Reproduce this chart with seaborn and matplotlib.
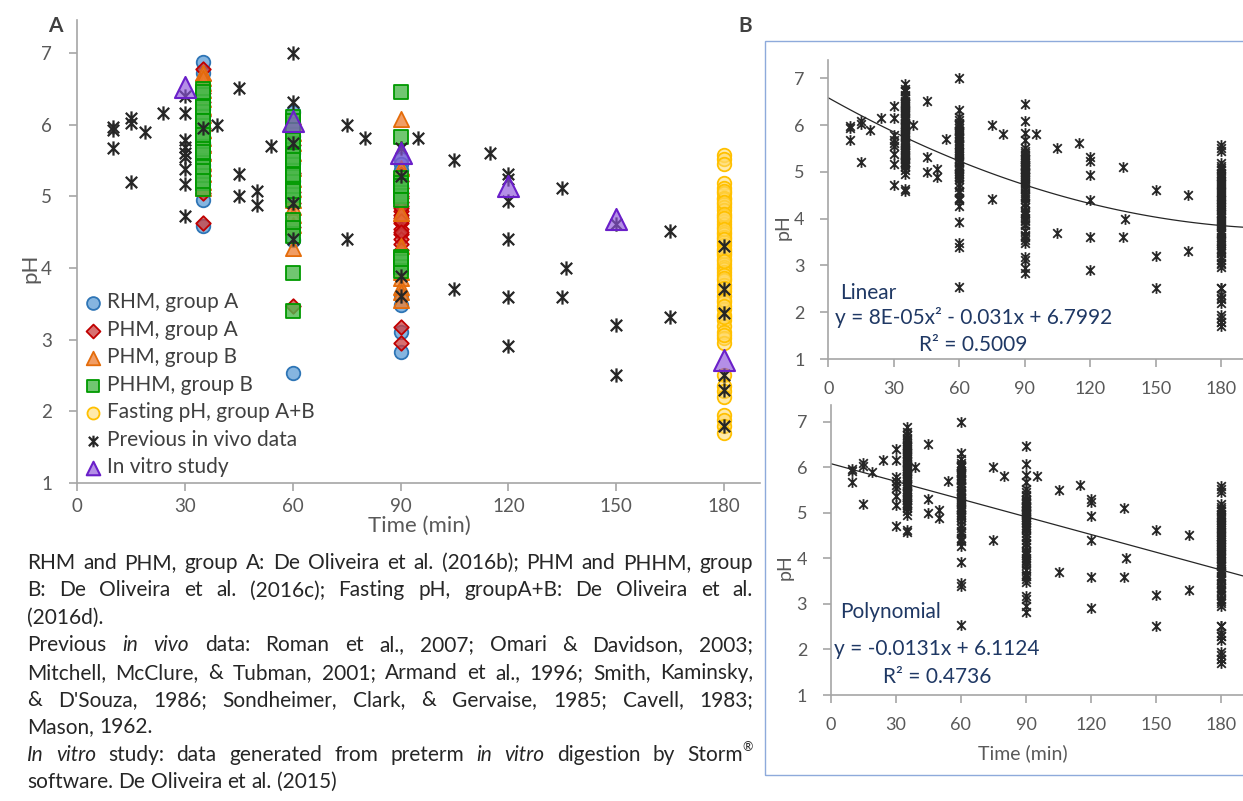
import numpy as np
import pandas as pd
import matplotlib
matplotlib.use("Agg")
import matplotlib.pyplot as plt
from matplotlib.path import Path
from matplotlib.patches import Rectangle
import seaborn as sns

sns.set_theme(style="white")
plt.rcParams['font.family'] = ['Lato', 'DejaVu Sans']

# ---------------- data ----------------
ticks_x = [0, 30, 60, 90, 120, 150, 180]
ticks_y = [1, 2, 3, 4, 5, 6, 7]

rhm_a_time = [35, 35, 35, 35, 35, 35, 35, 35, 35, 35, 35, 35, 35, 35,
              60, 60, 60, 60, 60, 60, 60, 60, 60,
              90, 90, 90, 90, 90, 90, 90, 90, 90, 90, 90]
rhm_a_ph = [6.88, 6.72, 6.51, 6.38, 6.22, 6.03, 5.91, 5.74, 5.62, 5.43, 5.28, 5.17, 4.95, 4.58,
            6.18, 6.02, 5.84, 5.6, 5.47, 5.21, 4.97, 4.39, 2.53,
            5.52, 5.45, 5.37, 5.28, 5.15, 5.06, 4.9, 3.62, 3.48, 3.11, 2.83]

phm_a_time = [35, 35, 35, 35, 35, 35, 35, 35, 35, 35, 35, 35, 35,
              60, 60, 60, 60, 60, 60, 60,
              90, 90, 90, 90, 90, 90, 90, 90, 90, 90, 90, 90, 90, 90, 90, 90,
              90, 90, 90, 90, 90, 90]
phm_a_ph = [6.78, 6.62, 6.44, 6.31, 6.12, 5.96, 5.81, 5.63, 5.52, 5.36, 5.22, 5.04, 4.63,
            6.01, 5.72, 5.33, 5.06, 4.9, 4.57, 3.47,
            5.31, 5.22, 5.12, 5.05, 4.98, 4.87, 4.79, 4.7, 4.63, 4.55, 4.47, 4.41, 4.34, 4.25,
            3.18, 2.95, 5.0, 4.92, 4.84, 4.74, 4.66, 4.5]

phm_b_time = [35, 35, 35, 35, 35, 35, 35, 35, 35, 35, 35, 35, 35, 35, 35, 35, 35,
              60, 60, 60, 60, 60, 60, 60, 60, 60, 60, 60, 60,
              90, 90, 90, 90, 90, 90, 90, 90, 90]
phm_b_ph = [6.72, 6.58, 6.36, 6.14, 5.93, 5.71, 5.48, 5.31, 5.12,
            6.65, 6.48, 6.25, 6.02, 5.82, 5.6, 5.4, 5.2,
            6.03, 5.88, 5.6, 5.24, 4.95, 4.74, 4.6, 4.28, 5.75, 5.4, 5.1, 4.85,
            6.08, 5.4, 4.77, 4.31, 3.95, 3.86, 3.74, 3.66, 3.55]

phhm_b_time = [35, 35, 35, 35, 35, 35, 35, 35, 35, 35, 35, 35, 35, 35, 35,
               35, 35, 35, 35, 35, 35, 35,
               60, 60, 60, 60, 60, 60, 60, 60, 60, 60, 60, 60, 60, 60, 60, 60, 60, 60, 60,
               60, 60, 60, 60, 60, 60,
               90, 90, 90, 90, 90, 90, 90, 90, 90, 90, 90, 90, 90, 90]
phhm_b_ph = [6.5, 6.41, 6.32, 6.18, 6.11, 5.98, 5.9, 5.77, 5.69, 5.58, 5.47, 5.41, 5.29, 5.18, 5.1,
             6.45, 6.25, 6.05, 5.85, 5.62, 5.35, 5.22,
             6.1, 6.0, 5.87, 5.8, 5.72, 5.65, 5.56, 5.43, 5.35, 5.27, 5.2, 5.12, 5.02, 4.95,
             4.67, 4.56, 4.44, 3.93, 3.4, 6.05, 5.93, 5.78, 5.5, 5.3, 5.08,
             6.46, 5.83, 5.25, 5.19, 5.1, 5.05, 5.0, 4.16, 4.08, 4.01, 3.96, 5.15, 4.95, 4.12]

fasting_time = [180] * 63
fasting_ph = [5.58, 5.52, 5.45, 5.19, 5.12, 5.04, 4.98, 4.96, 4.89, 4.85, 4.81, 4.73, 4.66,
              4.62, 4.57, 4.5, 4.47, 4.43, 4.36, 4.32, 4.27, 4.21, 4.18, 4.13, 4.05, 4.02,
              3.98, 3.94, 3.9, 3.83, 3.76, 3.68, 3.61, 3.52, 3.43, 3.35, 3.27, 3.19, 3.11,
              3.02, 2.96, 2.51, 2.36, 2.29, 2.2, 1.95, 1.88, 1.8, 1.7,
              5.08, 4.92, 4.76, 4.7, 4.54, 4.4, 4.24, 4.1, 3.86, 3.72, 3.56, 3.47, 3.31, 3.06]

prev_time = [10, 10, 10, 15, 15, 15, 19, 24, 30, 30, 30, 30, 30, 30, 30, 30, 30, 35, 39,
             45, 45, 45, 50, 50, 54, 60, 60, 60, 60, 60, 75, 75, 80, 90, 90, 90, 90, 95,
             105, 105, 115, 120, 120, 120, 120, 120, 120, 135, 136, 135, 150, 150, 150,
             165, 165, 180, 180, 180, 180, 180, 180]
prev_ph = [5.97, 5.93, 5.67, 6.09, 6.02, 5.2, 5.9, 6.16, 6.4, 6.16, 5.79, 5.69, 5.61, 5.55,
           5.38, 5.17, 4.72, 5.95, 6.0, 6.51, 5.31, 5.0, 5.07, 4.88, 5.7, 7.0, 6.32, 5.74,
           4.91, 4.41, 6.0, 4.41, 5.81, 5.67, 5.28, 3.89, 3.61, 5.81, 5.51, 3.7, 5.61, 5.31,
           5.24, 4.93, 4.4, 3.6, 2.91, 5.11, 4.0, 3.6, 4.62, 3.2, 2.51, 4.51, 3.31, 4.31,
           3.7, 3.37, 2.51, 2.3, 1.8]

vitro_time = [30, 60, 90, 120, 150, 180]
vitro_ph = [6.53, 6.05, 5.6, 5.15, 4.68, 2.72]

labels = ["RHM, group A", "PHM, group A", "PHM, group B", "PHHM, group B",
          "Fasting pH, group A+B", "Previous in vivo data", "In vitro study"]

# ---------------- figure ----------------
W, H = 1243, 801
fig = plt.figure(figsize=(W / 100, H / 100), dpi=100)

def box(l, t, r, b):
    return [l / W, 1 - b / H, (r - l) / W, (b - t) / H]

axA = fig.add_axes(box(77, 20, 760, 483))
axB1 = fig.add_axes(box(828.3, 60, 1243, 359))
axB2 = fig.add_axes(box(830.7, 405, 1243, 695))

star = Path([(0, -1), (0, 1), (-0.8, -0.8), (0.8, 0.8), (-0.8, 0.8), (0.8, -0.8)],
            [Path.MOVETO, Path.LINETO, Path.MOVETO, Path.LINETO, Path.MOVETO, Path.LINETO])

grey = '#595959'
spine_c = '#a6a6a6'

styles = [
    (rhm_a_time, rhm_a_ph, 'o', 95, (0.36, 0.61, 0.84, 0.75), '#2e75b6', 85),
    (phm_a_time, phm_a_ph, 'D', 55, (0.80, 0.25, 0.25, 0.75), '#c00000', 50),
    (phm_b_time, phm_b_ph, '^', 120, (0.93, 0.49, 0.19, 0.75), '#e46c0a', 95),
    (phhm_b_time, phhm_b_ph, 's', 90, (0.30, 0.72, 0.30, 0.8), '#009a00', 75),
    (fasting_time, fasting_ph, 'o', 95, (1.0, 0.85, 0.40, 0.55), '#ffc000', 75),
]
leg_sizes = []
for (t, p, m, s, fc, ec, ls), lab in zip(styles, labels[:5]):
    sns.scatterplot(x=t, y=p, marker=m, s=s, color=fc, edgecolor=ec, linewidth=1.3,
                    ax=axA, label=lab, zorder=3)
    leg_sizes.append(ls)
sns.scatterplot(x=prev_time, y=prev_ph, marker=star, s=105, color='#262626',
                edgecolor='#262626', linewidth=1.6, ax=axA, label=labels[5], zorder=4)
leg_sizes.append(70)
sns.scatterplot(x=vitro_time, y=vitro_ph, marker='^', s=230, color=(0.55, 0.33, 0.85, 0.65),
                edgecolor='#6a1fc9', linewidth=1.5, ax=axA, label=labels[6], zorder=5)
leg_sizes.append(95)

def style_axis(ax, ylim_top, pad_x, pad_y, fs=13):
    ax.set_xlim(0, 190)
    ax.set_ylim(1, ylim_top)
    ax.set_xticks(ticks_x)
    ax.set_yticks(ticks_y)
    for sp in ['top', 'right']:
        ax.spines[sp].set_visible(False)
    for sp in ['left', 'bottom']:
        ax.spines[sp].set_color(spine_c)
        ax.spines[sp].set_linewidth(1.2)
    ax.tick_params(axis='both', which='major', direction='out', length=6, width=1.2,
                   color=spine_c, labelcolor=grey, labelsize=fs, bottom=True, left=True)
    ax.tick_params(axis='x', pad=pad_x)
    ax.tick_params(axis='y', pad=pad_y)
    ax.set_facecolor('none')

style_axis(axA, 7.46, 5, 12, fs=13.5)
axA.set_xlabel('Time (min)', fontsize=16, color=grey)
axA.xaxis.set_label_coords(0.5007, -0.092)
axA.xaxis.label.set_va('center')
axA.set_ylabel('pH', fontsize=16, color=grey)
axA.yaxis.set_label_coords(-0.068, 0.464)
axA.yaxis.label.set_va('center')

leg = axA.legend(loc='lower left', bbox_to_anchor=(0.008, 0.012), frameon=False, fontsize=15,
                 borderpad=0.0, borderaxespad=0.0, handletextpad=0.2, labelspacing=0.36,
                 handlelength=1.0, handleheight=0.6)
for txt in leg.get_texts():
    txt.set_color('#404040')
for h, sz in zip(leg.legend_handles, leg_sizes):
    h.set_sizes([sz])

# ---------------- panel B ----------------
all_time = rhm_a_time + phm_a_time + phm_b_time + phhm_b_time + fasting_time + prev_time
all_ph = rhm_a_ph + phm_a_ph + phm_b_ph + phhm_b_ph + fasting_ph + prev_ph
dfB = pd.DataFrame({'time': all_time, 'pH': all_ph})

for ax, top, order in [(axB1, 7.39, 2), (axB2, 7.37, 1)]:
    style_axis(ax, top, 10, 11, fs=13)
    sns.scatterplot(data=dfB, x='time', y='pH', marker=star, s=60, color='#262626',
                    edgecolor='#262626', linewidth=1.3, ax=ax, zorder=3)
    sns.regplot(data=dfB, x='time', y='pH', order=order, ci=None, scatter=False,
                truncate=False, line_kws=dict(color='#262626', lw=0.9), ax=ax)
    ax.set_xlim(0, 190)
    ax.set_ylabel('pH', fontsize=14, color=grey)
    ax.yaxis.set_label_coords(-0.11, 0.441)
    ax.yaxis.label.set_va('center')

axB1.set_xlabel('')
axB2.set_xlabel('Time (min)', fontsize=14, color=grey)
axB2.xaxis.set_label_coords(0.466, -0.2)
axB2.xaxis.label.set_va('center')

navy = '#1f3864'
def ftext(x, y, s, ha='left', **kw):
    fig.text(x / W, 1 - y / H, s, ha=ha, va='center', **kw)

ftext(840, 293, 'Linear', fontsize=15, color=navy)
ftext(974, 317, 'y = 8E-05x² - 0.031x + 6.7992', ha='center', fontsize=15, color=navy)
ftext(973, 345, 'R² = 0.5009', ha='center', fontsize=15, color=navy)
ftext(840, 612, 'Polynomial', fontsize=15, color=navy)
ftext(937, 649, 'y = -0.0131x + 6.1124', ha='center', fontsize=15, color=navy)
ftext(937, 677, 'R² = 0.4736', ha='center', fontsize=15, color=navy)

fig.patches.append(Rectangle((765 / W, 1 - 775 / H), 1.0, (775 - 41) / H,
                             transform=fig.transFigure, fill=False, edgecolor='#8eaadb',
                             lw=1.0, zorder=0))

ftext(48, 26, 'A', fontsize=15, fontweight='bold', color='#404040')
ftext(738, 26, 'B', fontsize=15, fontweight='bold', color='#404040')

# ---------------- caption (justified) ----------------
caption = [
    ("RHM and PHM, group A: De Oliveira et al. (2016b); PHM and PHHM, group", True),
    ("B: De Oliveira et al. (2016c); Fasting pH, groupA+B: De Oliveira et al.", True),
    ("(2016d).", False),
    ("Previous *in* *vivo* data: Roman et al., 2007; Omari & Davidson, 2003;", True),
    ("Mitchell, McClure, & Tubman, 2001; Armand et al., 1996; Smith, Kaminsky,", True),
    ("& D'Souza, 1986; Sondheimer, Clark, & Gervaise, 1985; Cavell, 1983;", True),
    ("Mason, 1962.", False),
    ("*In* *vitro* study: data generated from preterm *in* *vitro* digestion by Storm^®", True),
    ("software. De Oliveira et al. (2015)", False),
]

fig.canvas.draw()
renderer = fig.canvas.get_renderer()
cap_fs = 15
cap_color = '#262626'

def segs(tok):
    if tok.startswith('*') and tok.endswith('*'):
        return [(tok.strip('*'), 'italic', False)]
    if '^' in tok:
        a, b = tok.split('^')
        return [(a, 'normal', False), (b, 'normal', True)]
    return [(tok, 'normal', False)]

def measure(t):
    return t.get_window_extent(renderer).width

ta = fig.text(0, 0, 'a a', fontsize=cap_fs)
tb = fig.text(0, 0, 'aa', fontsize=cap_fs)
space_w = measure(ta) - measure(tb)
ta.remove(); tb.remove()

x_left, x_right = 27, 753
base0, dy = 569, 27.4
for i, (line, just) in enumerate(caption):
    yb = base0 + i * dy
    words = []
    for tok in line.split(' '):
        parts = []
        wsum = 0
        for txt, st, sup in segs(tok):
            fs = cap_fs * (0.6 if sup else 1)
            t = fig.text(0, 0, txt, fontsize=fs, style=st, color=cap_color, va='baseline')
            w = measure(t)
            parts.append((t, w, sup))
            wsum += w
        words.append((parts, wsum))
    total = sum(w for _, w in words)
    n = len(words)
    gap = (x_right - x_left - total) / (n - 1) if (just and n > 1) else space_w
    x = x_left
    for parts, wsum in words:
        for t, w, sup in parts:
            yy = yb - (cap_fs * 100 / 72 * 0.45 if sup else 0)
            t.set_position((x / W, 1 - yy / H))
            x += w
        x += gap

fig.savefig('out.png', dpi=100)
